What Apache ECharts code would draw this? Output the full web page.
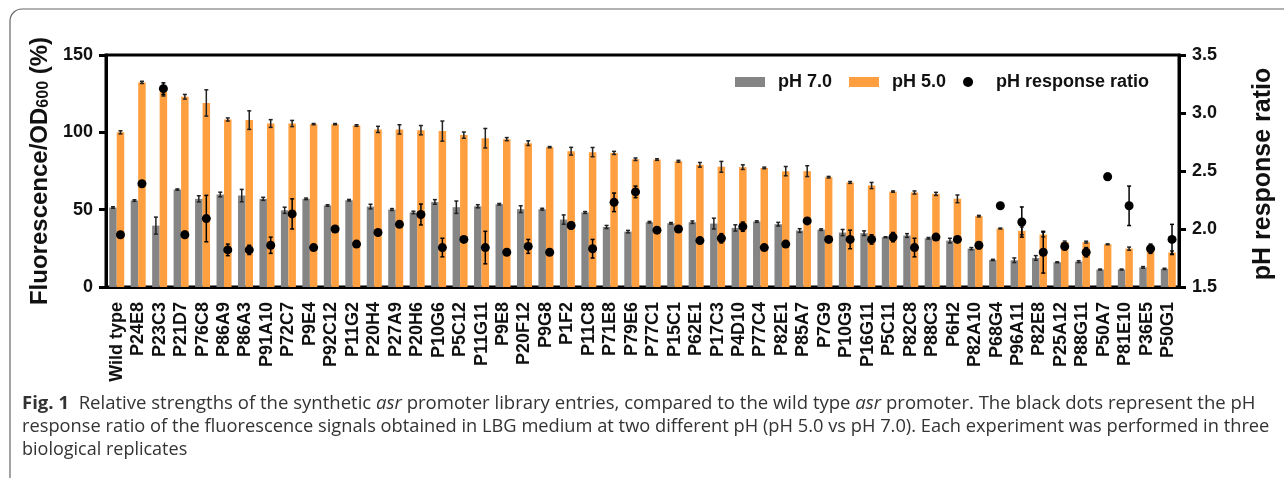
<!DOCTYPE html>
<html><head><meta charset="utf-8">
<script src="https://cdn.jsdelivr.net/npm/echarts@6/dist/echarts.min.js"></script>
<style>html,body{margin:0;padding:0;background:#fff}#c{width:1284px;height:478px}</style>
</head><body><div id="c"></div>
<script>
const categories = ['Wild type','P24E8','P23C3','P21D7','P76C8','P86A9','P86A3','P91A10','P72C7','P9E4','P92C12','P11G2','P20H4','P27A9','P20H6','P10G6','P5C12','P11G11','P9E8','P20F12','P9G8','P1F2','P11C8','P71E8','P79E6','P77C1','P15C1','P62E1','P17C3','P4D10','P77C4','P82E1','P85A7','P7G9','P10G9','P16G11','P5C11','P82C8','P88C3','P6H2','P82A10','P68G4','P96A11','P82E8','P25A12','P88G11','P50A7','P81E10','P36E5','P50G1'];
const ph7 = [51.4,55.9,39.7,63,57,59.8,59.1,57,49.6,57,52.7,56.1,52,50.1,48.2,55,51.6,52.2,53.5,50.3,50.3,43.6,48.2,38.8,35.8,41.9,41.2,41.9,41,38.2,42.3,40.6,36.5,37.1,35.2,34.8,32.2,33.3,31.5,30,24.8,17.5,17.3,18.8,16,16.4,11.3,11.3,12.7,11.7];
const ph7Err = [0.5,0.5,5.5,0.4,2,1.5,4,1,2,0.5,0.5,0.5,1.5,0.6,0.8,1.5,4,1,0.5,2.2,0.6,3,0.6,1,0.8,0.5,0.5,0.8,3.5,2,0.5,1.2,1.2,0.5,2,1.5,0.3,1.2,0.5,1.5,0.7,0.4,1.5,1.5,0.3,0.6,0.3,0.3,0.5,0.4];
const ph5 = [100,132.3,126,123,119,108.3,107.9,105.7,105.7,105.3,105.3,104.4,101.9,101.9,101.4,100.8,98.2,96.2,95.6,93,90.4,87.8,87.2,86.7,82.6,82.4,81.3,79,77.7,77.5,77,74.9,74.9,71,67.6,65.6,61.7,61.1,60.2,57,45.8,37.8,36.3,33.9,29.1,29,27.6,24.8,25.9,22.3];
const ph5Err = [1,0.7,2.5,1.5,8.5,1,6,2.5,2,0.4,0.4,0.5,2,3,3,6.5,2,6.3,1,1.5,0.4,2.5,3,1,0.8,0.5,0.6,1.5,3.5,1.5,0.5,3,3.5,0.5,0.6,2,0.4,1,1,2.5,0.5,0.3,2.5,1.5,0.6,0.6,0.3,1,1,1];
const ratio = [1.95,2.39,3.21,1.95,2.09,1.82,1.82,1.86,2.13,1.84,2.0,1.87,1.97,2.04,2.125,1.84,1.91,1.84,1.80,1.85,1.80,2.03,1.83,2.23,2.32,1.99,2.0,1.90,1.92,2.02,1.84,1.87,2.07,1.91,1.91,1.91,1.93,1.84,1.93,1.91,1.86,2.20,2.06,1.80,1.85,1.80,2.45,2.20,1.83,1.91];
const ratioErr = [0.02,0.02,0.05,0.03,0.2,0.05,0.04,0.07,0.13,0.01,0.01,0.01,0.01,0.01,0.09,0.08,0.01,0.14,0.01,0.06,0.01,0.03,0.08,0.08,0.05,0.01,0.01,0.01,0.04,0.04,0.01,0.01,0.01,0.01,0.08,0.04,0.04,0.08,0.02,0.01,0.03,0.01,0.13,0.18,0.03,0.04,0.03,0.17,0.04,0.13];
const leftTicks = [0, 50, 100, 150];
const rightTicks = [1.5, 2.0, 2.5, 3.0, 3.5];

const BW = 7.5;
const GREY = '#858585', ORANGE = '#FF9F40';
const F = 'Liberation Sans, Arial, sans-serif';

function errSeries(name, vals, errs, off, yIdx, color) {
  return {
    type: 'custom', name: name + ' err', yAxisIndex: yIdx, z: 5, silent: true,
    data: vals.map((v, i) => [i, v, errs[i]]),
    renderItem: function (params, api) {
      const i = api.value(0), v = api.value(1), e = api.value(2);
      const t = api.coord([i, v + e]), b = api.coord([i, v - e]);
      const x = t[0] + off, cw = 2;
      const st = { stroke: color, lineWidth: 1.5 };
      return { type: 'group', children: [
        { type: 'line', shape: { x1: x, y1: t[1], x2: x, y2: b[1] }, style: st },
        { type: 'line', shape: { x1: x - cw, y1: t[1], x2: x + cw, y2: t[1] }, style: st },
        { type: 'line', shape: { x1: x - cw, y1: b[1], x2: x + cw, y2: b[1] }, style: st }
      ]};
    }
  };
}

const chart = echarts.init(document.getElementById('c'));
const axisLbl = { color: '#111', fontWeight: 'bold', fontSize: 18, fontFamily: F };
const CS = 18;
const capFont = CS + 'px "Open Sans"';
chart.setOption({
  animation: false,
  grid: { left: 106, right: 101, top: 55, bottom: 191, show: true, borderColor: '#000', borderWidth: 3 },
  legend: {
    left: 730, top: 68, itemWidth: 30, itemHeight: 10, itemGap: 17,
    textStyle: { fontSize: 18, fontWeight: 'bold', fontFamily: F, color: '#111', padding: [0, 0, 0, 8] },
    data: [{ name: 'pH 7.0', icon: 'rect' }, { name: 'pH 5.0', icon: 'rect' }, { name: 'pH response ratio', icon: 'circle' }]
  },
  xAxis: {
    type: 'category', data: categories,
    axisLine: { lineStyle: { color: '#000', width: 3 } },
    axisTick: { alignWithLabel: true, length: 10, lineStyle: { width: 3, color: '#000' } },
    axisLabel: { interval: 0, rotate: 90, margin: 15, color: '#111', fontWeight: 'bold', fontSize: 18, fontFamily: F }
  },
  yAxis: [{
    type: 'value', min: 0, max: 150, interval: 50, position: 'left',
    name: 'Fluorescence/OD{sub|600} (%)', nameLocation: 'middle', nameGap: 53, nameRotate: 90,
    nameTextStyle: { fontSize: 24, fontWeight: 'bold', fontFamily: F, color: '#111',
      rich: { sub: { fontSize: 16, fontWeight: 'bold', fontFamily: F, color: '#111', verticalAlign: 'bottom' } } },
    axisLine: { show: true, lineStyle: { color: '#000', width: 3 } },
    axisTick: { show: true, length: 7, lineStyle: { width: 3, color: '#000' } },
    splitLine: { show: false },
    axisLabel: Object.assign({ margin: 13 }, axisLbl)
  }, {
    type: 'value', min: 1.5, max: 3.5, interval: 0.5, position: 'right',
    name: 'pH response ratio', nameLocation: 'middle', nameGap: 72, nameRotate: 90,
    nameTextStyle: { fontSize: 25, fontWeight: 'bold', fontFamily: F, color: '#111', padding: [0, 6, 0, 0] },
    axisLine: { show: true, lineStyle: { color: '#000', width: 3 } },
    axisTick: { show: true, length: 7, lineStyle: { width: 3, color: '#000' } },
    splitLine: { show: false },
    axisLabel: Object.assign({ margin: 13, formatter: v => v.toFixed(1) }, axisLbl)
  }],
  series: [
    { type: 'bar', name: 'pH 7.0', data: ph7, barWidth: BW, barGap: '0%', itemStyle: { color: GREY }, z: 2 },
    { type: 'bar', name: 'pH 5.0', data: ph5, barWidth: BW, barGap: '0%', itemStyle: { color: ORANGE }, z: 2 },
    errSeries('pH 7.0', ph7, ph7Err, -BW / 2, 0, '#222'),
    errSeries('pH 5.0', ph5, ph5Err, BW / 2, 0, '#222'),
    { type: 'scatter', name: 'pH response ratio', yAxisIndex: 1, data: ratio, symbol: 'circle', symbolSize: 9,
      symbolOffset: [BW / 2, 0], itemStyle: { color: '#000', opacity: 1 }, z: 6 },
    errSeries('pH response ratio', ratio, ratioErr, BW / 2, 1, '#000')
  ],
  graphic: [
    { type: 'rect', shape: { x: 10, y: 9, width: 1400, height: 600, r: 12 }, style: { fill: 'none', stroke: '#666', lineWidth: 1.2 }, silent: true },
    { type: 'text', x: 22, y: 395, scaleX: 1.03, style: { text: '{b|Fig. 1}  Relative strengths of the synthetic {i|asr} promoter library entries, compared to the wild type {i|asr} promoter. The black dots represent the pH',
      font: capFont, fill: '#333', rich: { b: { fontWeight: 'bold', fontSize: CS, fontFamily: 'Open Sans', fill: '#333' }, i: { fontStyle: 'italic', fontSize: CS, fontFamily: 'Open Sans', fill: '#333' } } } },
    { type: 'text', x: 22, y: 418, scaleX: 1.015, style: { text: 'response ratio of the fluorescence signals obtained in LBG medium at two different pH (pH 5.0 vs pH 7.0). Each experiment was performed in three', font: capFont, fill: '#333' } },
    { type: 'text', x: 22, y: 441, style: { text: 'biological replicates', font: capFont, fill: '#333' } }
  ]
});
</script></body></html>
